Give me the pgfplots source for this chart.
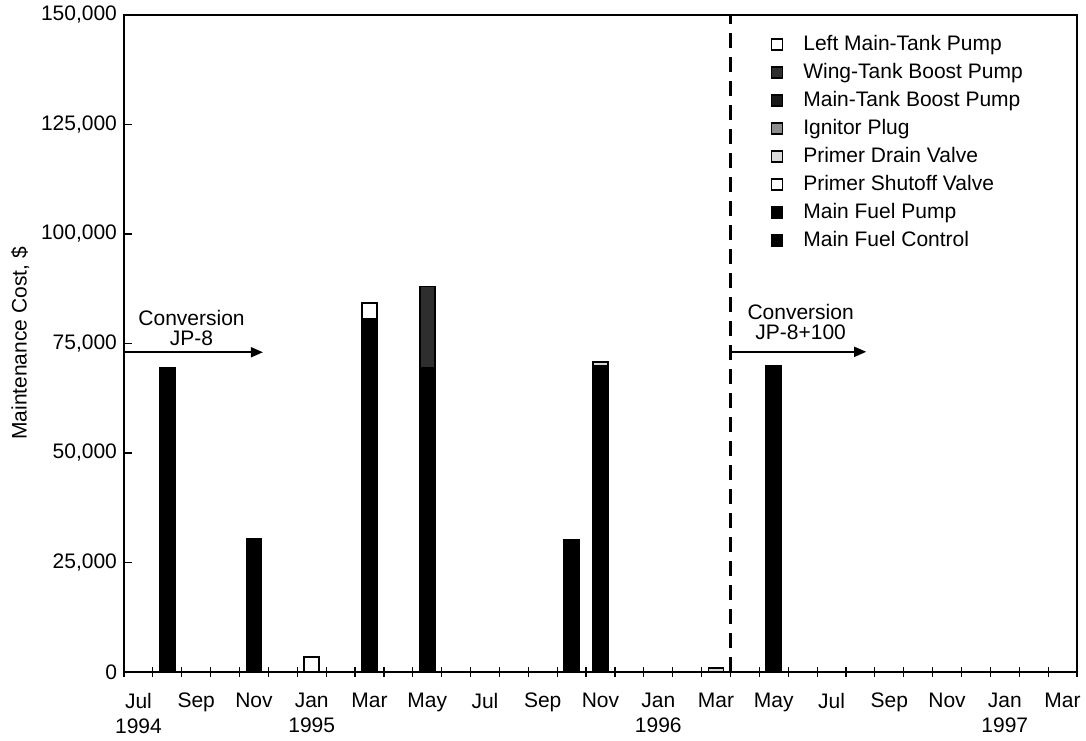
\documentclass[border=0pt]{standalone}
\usepackage{fontspec}
\setmainfont{Liberation Sans}
\usepackage{pgfplots}
\pgfplotsset{compat=1.18}
\usepackage{pgfplotstable}
\usetikzlibrary{arrows.meta}

% monthly maintenance cost by component, x = months after Jul 1994
\pgfplotstableread{
x   mfc   mfp   psv  pdv  ign  mtb  wtb   lmt
1   69500 0     0    0    0    0    0     0
4   30500 0     0    0    0    0    0     0
6   0     0     3400 0    0    0    0     0
8   80600 0     0    0    0    0    0     3600
10  69500 0     0    0    0    0    18500 0
15  0     30200 0    0    0    0    0     0
16  70000 0     0    800  0    0    0     0
20  0     0     0    900  0    0    0     0
22  69800 0     0    0    0    0    0     0
}\costs

\newcommand{\lbl}{\fontsize{10.5}{12.5}\selectfont}

\begin{document}
\begin{tikzpicture}
\begin{axis}[
    scale only axis, width=476.5pt, height=328.5pt,
    xmin=-0.5, xmax=32.5, ymin=0, ymax=150000,
    ybar stacked, bar width=7.5pt,
    axis line style={line width=0.8pt},
    tick style={black, line width=0.6pt},
    xtick={0,2,...,32},
    xticklabels={Jul\\1994,Sep,Nov,Jan\\1995,Mar,May,Jul,Sep,Nov,Jan\\1996,Mar,May,Jul,Sep,Nov,Jan\\1997,Mar},
    xticklabel style={align=center, yshift=-5pt},
    minor xtick={-0.5,0.5,...,32.5},
    major x tick style={draw=none},
    xtick pos=bottom, xtick align=center,
    ytick={0,25000,50000,75000,100000,125000,150000},
    yticklabels={0,{25,000},{50,000},{75,000},{100,000},{125,000},{150,000}},
    ytick pos=left, ytick align=inside,
    major tick length=4pt, minor tick length=5pt,
    scaled y ticks=false,
    tick label style={font=\lbl},
    ylabel={Maintenance Cost, \$},
    ylabel style={font=\lbl, at={(axis description cs:-0.109,0.5)}, anchor=center},
    legend image code/.code={\draw[#1, draw=black, line width=0.8pt] (0pt,-2.8pt) rectangle (5.6pt,2.8pt);},
    legend style={draw=none, fill=none, font=\lbl,
        at={(axis description cs:0.678,0.977)}, anchor=north west,
        inner sep=0pt, column sep=10pt,
        nodes={text height=8pt, text depth=2.5pt, inner ysep=1.75pt, inner xsep=0pt}},
    legend cell align=left,
    reverse legend,
    every axis plot/.append style={draw=black, line width=0.8pt},
]
\addplot[fill=black] table[x=x, y=mfc] {\costs};
\addlegendentry{Main Fuel Control}
\addplot[fill=black] table[x=x, y=mfp] {\costs};
\addlegendentry{Main Fuel Pump}
\addplot[fill=white] table[x=x, y=psv] {\costs};
\addlegendentry{Primer Shutoff Valve}
\addplot[fill=black!15] table[x=x, y=pdv] {\costs};
\addlegendentry{Primer Drain Valve}
\addplot[fill=black!45] table[x=x, y=ign] {\costs};
\addlegendentry{Ignitor Plug}
\addplot[fill=black!90] table[x=x, y=mtb] {\costs};
\addlegendentry{Main-Tank Boost Pump}
\addplot[fill=black!82] table[x=x, y=wtb] {\costs};
\addlegendentry{Wing-Tank Boost Pump}
\addplot[fill=white] table[x=x, y=lmt] {\costs};
\addlegendentry{Left Main-Tank Pump}

% fuel conversion markers
\draw[line width=1.4pt, dash pattern=on 7.5pt off 4.5pt] (axis cs:20.5,0) -- (axis cs:20.5,150000);
\draw[line width=0.9pt, -{Triangle[length=6pt,width=5pt]}] (axis cs:-0.5,73000) -- (axis cs:4.31,73000);
\draw[line width=0.9pt, -{Triangle[length=6pt,width=5pt]}] (axis cs:20.5,73100) -- (axis cs:25.2,73100);
\node[align=center, font=\fontsize{10.5}{10}\selectfont] at (axis cs:1.84,78650) {Conversion\\JP-8};
\node[align=center, font=\fontsize{10.5}{10}\selectfont] at (axis cs:22.93,79900) {Conversion\\JP-8+100};

\coordinate (bl) at (rel axis cs:0,0);
\coordinate (tr) at (rel axis cs:1,1);
\end{axis}
\pgfresetboundingbox
\path[use as bounding box] ([shift={(-62pt,-34pt)}]bl) rectangle ([shift={(4.5pt,7.5pt)}]tr);
\end{tikzpicture}
\end{document}
